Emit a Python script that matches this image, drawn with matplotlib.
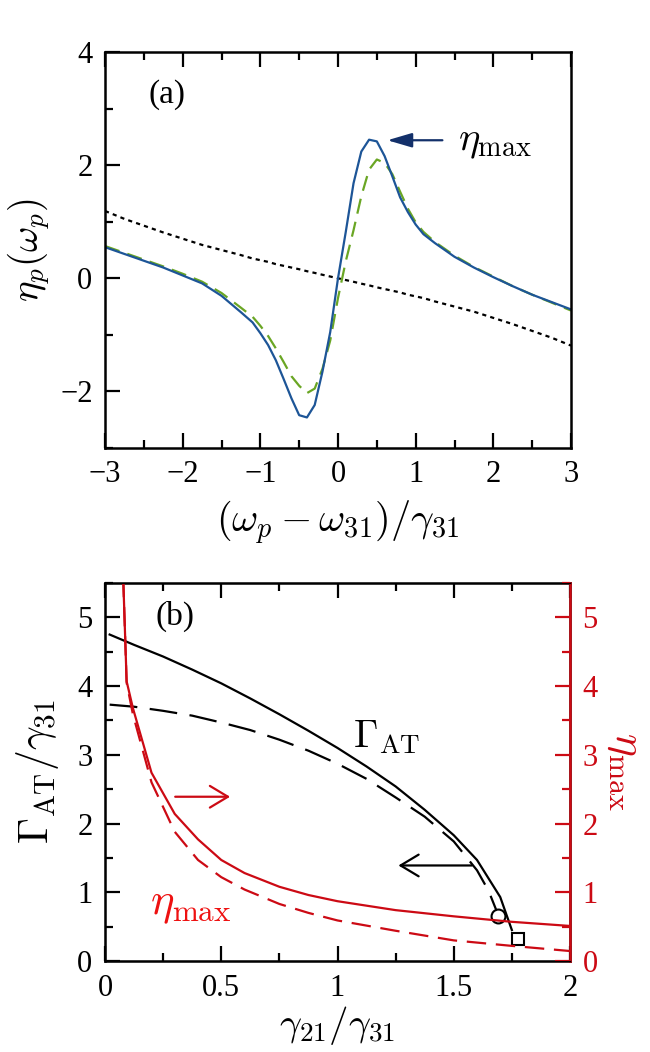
import matplotlib
matplotlib.use("Agg")
import matplotlib.pyplot as plt
from matplotlib.ticker import MultipleLocator

plt.rcParams['font.family'] = ['Liberation Serif', 'DejaVu Serif']
plt.rcParams['mathtext.fontset'] = 'cm'
plt.rcParams['lines.scale_dashes'] = False

# ---- panel (a): eta_p vs detuning ----
x_a = [-3.0, -2.75, -2.5, -2.25, -2.0, -1.75, -1.5, -1.25, -1.1, -1.0, -0.9, -0.8, -0.7, -0.6, -0.5,
       -0.4, -0.3, -0.2, -0.1, 0.0, 0.1, 0.2, 0.3, 0.4, 0.5, 0.6, 0.7, 0.8, 0.9, 1.0,
       1.1, 1.25, 1.5, 1.75, 2.0, 2.25, 2.5, 2.75, 3.0]
eta_solid = [0.55, 0.43, 0.31, 0.19, 0.05, -0.09, -0.31, -0.60, -0.78, -0.97, -1.18, -1.45, -1.78, -2.12, -2.42,
             -2.46, -2.24, -1.65, -0.95, 0.0, 0.82, 1.68, 2.24, 2.45, 2.42, 2.16, 1.80, 1.43, 1.17, 0.95,
             0.78, 0.62, 0.38, 0.19, 0.02, -0.14, -0.29, -0.42, -0.55]
eta_dash = [0.57, 0.45, 0.33, 0.21, 0.08, -0.06, -0.26, -0.52, -0.68, -0.84, -1.02, -1.24, -1.48, -1.73, -1.9,
            -2.03, -1.95, -1.6, -1.1, -0.35, 0.3, 0.85, 1.45, 1.92, 2.1, 2.04, 1.84, 1.53, 1.23, 0.99,
            0.82, 0.64, 0.4, 0.2, 0.03, -0.14, -0.29, -0.43, -0.57]
eta_dot = [1.19, 1.05, 0.93, 0.81, 0.70, 0.59, 0.50, 0.41, 0.35, 0.32, 0.29, 0.25, 0.22, 0.19, 0.16,
           0.125, 0.095, 0.062, 0.031, 0.0, -0.031, -0.062, -0.095, -0.125, -0.16, -0.19, -0.22, -0.25, -0.29, -0.32,
           -0.35, -0.41, -0.50, -0.59, -0.70, -0.81, -0.93, -1.05, -1.19]

# ---- panel (b): Gamma_AT and eta_max vs gamma21 ----
g_solid = [0.02, 0.125, 0.25, 0.375, 0.5, 0.625, 0.75, 0.875, 1.0, 1.125, 1.25, 1.375, 1.5, 1.6, 1.7, 1.75]
gam_solid = [4.75, 4.6, 4.43, 4.24, 4.04, 3.82, 3.59, 3.35, 3.1, 2.83, 2.54, 2.2, 1.83, 1.47, 0.93, 0.45]
g_dash = [0.02, 0.125, 0.25, 0.375, 0.5, 0.625, 0.75, 0.875, 1.0, 1.125, 1.25, 1.375, 1.5, 1.6, 1.65, 1.69]
gam_dash = [3.73, 3.7, 3.64, 3.57, 3.47, 3.36, 3.22, 3.06, 2.87, 2.65, 2.38, 2.1, 1.74, 1.32, 1.02, 0.68]

g_red = [0.077, 0.079, 0.093, 0.12, 0.2, 0.3, 0.4, 0.5, 0.6, 0.75, 0.875, 1.0, 1.25, 1.5, 1.75, 2.0]
emax_solid = [6.0, 5.5, 4.07, 3.68, 2.74, 2.14, 1.77, 1.47, 1.28, 1.08, 0.96, 0.87, 0.74, 0.65, 0.57, 0.51]
emax_dash = [6.0, 5.5, 4.05, 3.59, 2.6, 1.88, 1.47, 1.22, 1.04, 0.83, 0.7, 0.59, 0.44, 0.30, 0.22, 0.145]

circle_pt = (1.69, 0.66)
square_pt = (1.775, 0.32)

BLUE = '#1d5597'
GREEN = '#6aa624'
NAVY = '#13306a'
RED = '#cc0a14'

fig = plt.figure(figsize=(6.5, 10.52), dpi=100)

ax1 = fig.add_axes([105 / 650, 1 - 448 / 1052, 466 / 650, 396 / 1052])
ax1.plot(x_a, eta_dot, color='black', lw=1.6, dashes=(3, 3))
ax1.plot(x_a, eta_dash, color=GREEN, lw=1.6, dashes=(11, 6))
ax1.plot(x_a, eta_solid, color=BLUE, lw=1.6)
ax1.set_xlim(-3, 3)
ax1.set_ylim(-3, 4)
ax1.xaxis.set_major_locator(MultipleLocator(1))
ax1.xaxis.set_minor_locator(MultipleLocator(0.5))
ax1.yaxis.set_major_locator(MultipleLocator(2))
ax1.yaxis.set_minor_locator(MultipleLocator(1))
ax1.tick_params(which='both', direction='in', top=True, right=False, labelsize=22, width=1.6, pad=9)
ax1.tick_params(which='major', length=11)
ax1.tick_params(which='minor', length=6)
ax1.set_xlabel(r'$(\omega_p-\omega_{31})/\gamma_{31}$', fontsize=29, labelpad=7)
ax1.set_ylabel(r'$\eta_p(\omega_p)$', fontsize=28, labelpad=6)
for s in ax1.spines.values():
    s.set_linewidth(1.8)
ax1.text(-2.2, 3.25, '(a)', fontsize=24, ha='center', va='center')
ax1.annotate('', xy=(0.6, 2.44), xytext=(1.38, 2.44),
             arrowprops=dict(arrowstyle='-|>,head_length=0.75,head_width=0.22',
                             color=NAVY, lw=1.6, mutation_scale=20))
ax1.text(1.55, 2.4, r'$\eta_{\max}$', fontsize=29, ha='left', va='center')

ax2 = fig.add_axes([105 / 650, 1 - 961 / 1052, 465 / 650, 378 / 1052])
ax2.plot(g_solid, gam_solid, color='black', lw=1.6)
ax2.plot(g_dash, gam_dash, color='black', lw=1.6, dashes=(20, 9))
ax2.plot(*circle_pt, marker='o', ms=10, mfc='white', mec='black', mew=1.5)
ax2.plot(*square_pt, marker='s', ms=8, mfc='white', mec='black', mew=1.5)
ax2.set_xlim(0, 2)
ax2.set_ylim(0, 5.5)
ax2.xaxis.set_major_locator(MultipleLocator(0.5))
ax2.xaxis.set_minor_locator(MultipleLocator(0.25))
ax2.yaxis.set_major_locator(MultipleLocator(1))
ax2.yaxis.set_minor_locator(MultipleLocator(0.5))
ax2.xaxis.set_major_formatter(plt.FuncFormatter(lambda v, p: '%g' % v))
ax2.tick_params(which='both', direction='in', top=True, right=False, labelsize=22, width=1.6, pad=9)
ax2.tick_params(which='major', length=11)
ax2.tick_params(which='minor', length=6)
ax2.set_xlabel(r'$\gamma_{21}/\gamma_{31}$', fontsize=28, labelpad=1)
ax2.set_ylabel(r'$\Gamma_{\rm AT}/\gamma_{31}$', fontsize=30, labelpad=12)
for s in ax2.spines.values():
    s.set_linewidth(1.8)
ax2.text(0.3, 5.02, '(b)', fontsize=24, ha='center', va='center')
ax2.text(1.21, 3.25, r'$\Gamma_{\rm AT}$', fontsize=28, ha='center', va='center')
ax2.annotate('', xy=(1.25, 1.39), xytext=(1.59, 1.39),
             arrowprops=dict(arrowstyle='->,head_length=0.5,head_width=0.3',
                             color='black', lw=1.6, mutation_scale=26))

ax3 = ax2.twinx()
ax3.plot(g_red, emax_solid, color=RED, lw=1.6)
ax3.plot(g_red, emax_dash, color=RED, lw=1.6, dashes=(14, 7))
ax3.set_ylim(0, 5.5)
ax3.yaxis.set_major_locator(MultipleLocator(1))
ax3.yaxis.set_minor_locator(MultipleLocator(0.5))
ax3.tick_params(which='both', direction='in', colors=RED, labelsize=22, width=1.6, pad=9)
ax3.tick_params(which='major', length=11)
ax3.tick_params(which='minor', length=6)
ax3.spines['right'].set_color(RED)
ax3.spines['right'].set_linewidth(1.8)
ax3.set_ylabel(r'$\eta_{\max}$', fontsize=31, color=RED, rotation=270, labelpad=33)
ax3.text(0.37, 0.8, r'$\eta_{\max}$', fontsize=32, color='#ee1111', ha='center', va='center')
ax3.annotate('', xy=(0.55, 2.39), xytext=(0.29, 2.39),
             arrowprops=dict(arrowstyle='->,head_length=0.5,head_width=0.3',
                             color=RED, lw=1.6, mutation_scale=26))

fig.savefig('out.png', dpi=100)
